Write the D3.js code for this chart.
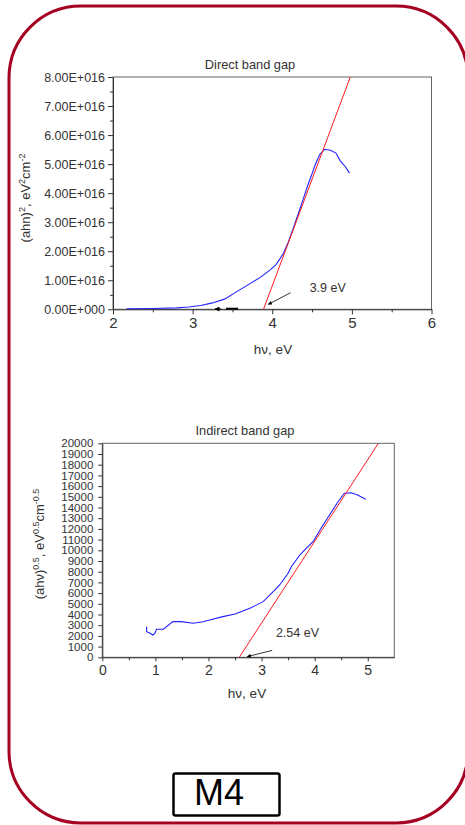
<!DOCTYPE html>
<html>
<head>
<meta charset="utf-8">
<script src="https://cdn.jsdelivr.net/npm/d3@7"></script>
<style>
  body { margin: 0; background: #fff; }
  svg { display: block; }
  text { font-family: "Liberation Sans", Arial, sans-serif; fill: #333; }
</style>
</head>
<body>
<svg id="chart" width="465" height="825"></svg>
<script>
// direct band gap: (ahn)^2 vs hv
const directHv  = [2.17, 2.5, 2.8, 2.95, 3.1, 3.25, 3.4, 3.55, 3.7, 3.85, 3.97, 4.05, 4.14, 4.2, 4.27, 4.37, 4.45, 4.5, 4.55, 4.6, 4.66, 4.73, 4.8, 4.85, 4.92, 4.97]
const directVal = [0.02e16, 0.03e16, 0.05e16, 0.08e16, 0.13e16, 0.22e16, 0.35e16, 0.6e16, 0.85e16, 1.1e16, 1.35e16, 1.55e16, 1.92e16, 2.3e16, 2.84e16, 3.64e16, 4.3e16, 4.67e16, 5.05e16, 5.35e16, 5.51e16, 5.48e16, 5.38e16, 5.13e16, 4.9e16, 4.69e16]
const directFitHv  = [3.89, 4.98]
const directFitVal = [0, 8e16]
const directXTicks = [2, 3, 4, 5, 6]
const directYTicks = [0, 1e16, 2e16, 3e16, 4e16, 5e16, 6e16, 7e16, 8e16]

// indirect band gap: (ahv)^0.5 vs hv
const indirectHv  = [0.835, 0.835, 0.9, 0.95, 0.99, 1.02, 1.15, 1.33, 1.49, 1.71, 1.9, 2.02, 2.27, 2.5, 2.78, 3.03, 3.28, 3.34, 3.5, 3.56, 3.72, 3.84, 3.97, 4.12, 4.28, 4.44, 4.56, 4.69, 4.81, 4.96]
const indirectVal = [2860, 2390, 2240, 2080, 2240, 2620, 2620, 3330, 3330, 3180, 3330, 3490, 3800, 4050, 4580, 5200, 6450, 6760, 7850, 8470, 9560, 10190, 10800, 12060, 13300, 14540, 15330, 15380, 15170, 14770]
const indirectFitHv  = [2.58, 5.2]
const indirectFitVal = [0, 20000]
const indirectXTicks = [0, 1, 2, 3, 4, 5]
const indirectYTicks = d3.range(0, 20001, 1000)

const svg = d3.select("#chart")

// outer rounded frame
svg.append("rect")
  .attr("x", 9).attr("y", 6)
  .attr("width", 459).attr("height", 817)
  .attr("rx", 72).attr("ry", 72)
  .attr("fill", "none")
  .attr("stroke", "#a50021")
  .attr("stroke-width", 3)

const defs = svg.append("defs")
defs.append("marker")
  .attr("id", "arrow")
  .attr("viewBox", "0 0 10 10")
  .attr("refX", 9).attr("refY", 5)
  .attr("markerWidth", 7).attr("markerHeight", 5)
  .attr("orient", "auto")
  .append("path")
  .attr("d", "M0,0 L10,5 L0,10 z")
  .attr("fill", "#000")

function drawPanel(o) {
  const g = svg.append("g")
  const x = d3.scaleLinear().domain(o.xDomain).range(o.xRange)
  const y = d3.scaleLinear().domain(o.yDomain).range(o.yRange)

  // box
  g.append("rect")
    .attr("x", o.xRange[0]).attr("y", o.yRange[1])
    .attr("width", o.xRange[1] - o.xRange[0])
    .attr("height", o.yRange[0] - o.yRange[1])
    .attr("fill", "none").attr("stroke", "#666").attr("stroke-width", 1)

  // minor ticks
  g.append("g")
    .attr("transform", "translate(0," + o.yRange[0] + ")")
    .call(d3.axisBottom(x).tickValues(o.xMinor).tickFormat("").tickSize(3).tickSizeOuter(0))
    .call(a => a.select(".domain").remove())
    .call(a => a.selectAll("line").attr("stroke", "#333"))
  if (o.yMinor) {
    g.append("g")
      .attr("transform", "translate(" + o.xRange[0] + ",0)")
      .call(d3.axisLeft(y).tickValues(o.yMinor).tickFormat("").tickSize(3).tickSizeOuter(0))
      .call(a => a.select(".domain").remove())
      .call(a => a.selectAll("line").attr("stroke", "#333"))
  }

  // major axes
  const xa = g.append("g")
    .attr("transform", "translate(0," + o.yRange[0] + ")")
    .call(d3.axisBottom(x).tickValues(o.xTicks).tickFormat(d3.format("d")).tickSize(o.tick).tickPadding(o.xPad).tickSizeOuter(0))
  xa.selectAll("text").style("font-size", o.xFont + "px").attr("fill", "#333")
  const ya = g.append("g")
    .attr("transform", "translate(" + o.xRange[0] + ",0)")
    .call(d3.axisLeft(y).tickValues(o.yTicks).tickFormat(o.yFormat).tickSize(o.tick).tickPadding(o.yPad).tickSizeOuter(0))
  ya.selectAll("text").style("font-size", o.yFont + "px").attr("fill", "#333")
  g.selectAll(".domain").attr("stroke", "#333")
  g.selectAll(".tick line").attr("stroke", "#333")

  // data curve
  const line = d3.line().x(d => x(d[0])).y(d => y(d[1]))
  g.append("path")
    .datum(o.hv.map((h, i) => [h, o.val[i]]))
    .attr("d", line)
    .attr("fill", "none").attr("stroke", "#2020ff").attr("stroke-width", 1.1)

  // linear fit
  g.append("path")
    .datum(o.fitHv.map((h, i) => [h, o.fitVal[i]]))
    .attr("d", line)
    .attr("fill", "none").attr("stroke", "#ff1a1a").attr("stroke-width", 1)

  // title
  g.append("text")
    .attr("x", o.titleX).attr("y", o.yRange[1] - 8)
    .attr("text-anchor", "middle")
    .style("font-size", "12.8px")
    .text(o.title)

  // x label
  g.append("text")
    .attr("x", o.xLabelX).attr("y", o.xLabelY)
    .attr("text-anchor", "middle")
    .style("font-size", "13.5px")
    .text("hν, eV")

  // y label
  const yl = g.append("text")
    .attr("transform", "translate(" + o.yLabelX + "," + o.yLabelY + ") rotate(-90)")
    .attr("text-anchor", "middle")
    .style("font-size", "13px")
  o.yLabel.forEach(p => {
    yl.append("tspan")
      .attr("baseline-shift", p[1] ? "super" : null)
      .style("font-size", p[1] ? "9px" : null)
      .text(p[0])
  })

  // gap annotation
  g.append("line")
    .attr("x1", x(o.arrow[0])).attr("y1", y(o.arrow[1]))
    .attr("x2", x(o.arrow[2])).attr("y2", y(o.arrow[3]))
    .attr("stroke", "#000").attr("stroke-width", 0.8)
    .attr("marker-end", "url(#arrow)")
  g.append("text")
    .attr("x", x(o.gapPos[0])).attr("y", y(o.gapPos[1]))
    .style("font-size", "12.5px")
    .text(o.gapText)

  return { g, x, y }
}

const direct = drawPanel({
  xDomain: [2, 6], xRange: [113, 431.5],
  yDomain: [0, 8e16], yRange: [309.3, 77],
  xTicks: directXTicks, xMinor: [2.5, 3.5, 4.5, 5.5],
  yTicks: directYTicks, yMinor: d3.range(0.5e16, 8e16, 1e16),
  yFormat: v => v === 0 ? "0.00E+000" : (v / 1e16).toFixed(2) + "E+016",
  tick: 5, xPad: 3, yPad: 3, xFont: 15, yFont: 12.5,
  hv: directHv, val: directVal, fitHv: directFitHv, fitVal: directFitVal,
  title: "Direct band gap", titleX: 250,
  xLabelX: 273, xLabelY: 354,
  yLabel: [["(ahn)", false], ["2", true], [", eV", false], ["2", true], ["cm", false], ["-2", true]],
  yLabelX: 30, yLabelY: 198,
  arrow: [4.23, 0.57e16, 3.95, 0.17e16],
  gapPos: [4.47, 0.6e16], gapText: "3.9 eV"
})

// small arrow lying on the x axis of the direct plot
direct.g.append("line")
  .attr("x1", direct.x(3.57)).attr("y1", direct.y(0.02e16))
  .attr("x2", direct.x(3.42)).attr("y2", direct.y(0.02e16))
  .attr("stroke", "#000").attr("stroke-width", 2)
direct.g.append("line")
  .attr("x1", direct.x(3.36)).attr("y1", direct.y(0.01e16))
  .attr("x2", direct.x(3.28)).attr("y2", direct.y(0.01e16))
  .attr("stroke", "#000").attr("stroke-width", 1)
  .attr("marker-end", "url(#arrow)")

drawPanel({
  xDomain: [0, 5.5], xRange: [102.3, 394.3],
  yDomain: [0, 20000], yRange: [657.3, 443.3],
  xTicks: indirectXTicks, xMinor: [0.5, 1.5, 2.5, 3.5, 4.5],
  yTicks: indirectYTicks, yMinor: null,
  yFormat: d3.format("d"),
  tick: 4, xPad: 4, yPad: 5, xFont: 14, yFont: 11.5,
  hv: indirectHv, val: indirectVal, fitHv: indirectFitHv, fitVal: indirectFitVal,
  title: "Indirect band gap", titleX: 245,
  xLabelX: 247, xLabelY: 698,
  yLabel: [["(ahν)", false], ["0.5", true], [", eV", false], ["0.5", true], ["cm", false], ["-0.5", true]],
  yLabelX: 44, yLabelY: 544,
  arrow: [3.2, 650, 2.73, 60],
  gapPos: [3.27, 1900], gapText: "2.54 eV"
})

// sample label box
svg.append("rect")
  .attr("x", 173.5).attr("y", 773.5)
  .attr("width", 106).attr("height", 42)
  .attr("rx", 2)
  .attr("fill", "none").attr("stroke", "#000").attr("stroke-width", 2.5)
svg.append("text")
  .attr("x", 194).attr("y", 805)
  .style("font-size", "36px")
  .style("fill", "#000")
  .text("M4")
</script>
</body>
</html>
